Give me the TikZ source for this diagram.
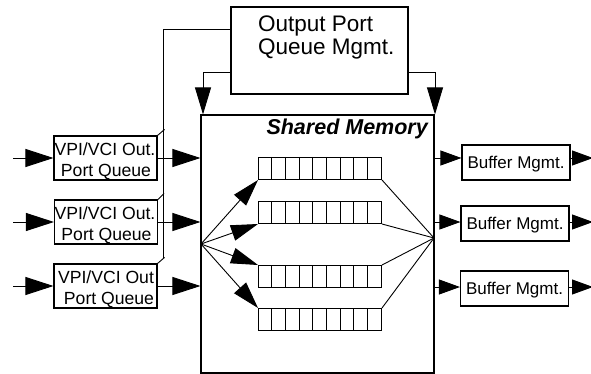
\documentclass[tikz,border=0pt]{standalone}
\usepackage{fontspec}
\setmainfont{Liberation Sans}
\usetikzlibrary{arrows.meta}

\tikzset{
  box/.style={draw, line width=1.1pt, inner sep=0pt},
  wire/.style={line width=0.9pt},
  lbl/.style={inner sep=0pt, font=\fontsize{17.6}{21}\selectfont},
  biglbl/.style={inner sep=0pt, font=\fontsize{22.5}{23}\selectfont},
  titlelbl/.style={inner sep=0pt, font=\fontsize{21.5}{22}\selectfont\bfseries\itshape},
  bigarrow/.style={wire, -{Triangle[length=28pt,width=18pt]}},
  downarrow/.style={wire, -{Triangle[length=27pt,width=16pt]}},
  fanarrow/.style={wire, -{Triangle[length=27pt,width=16pt]}},
  midarrow/.style={wire, -{Triangle[length=21pt,width=15pt]}},
  vpibox/.style={box, minimum width=103pt, minimum height=44pt},
  bufbox/.style={box, minimum width=108pt, minimum height=35pt,
    font=\fontsize{17}{21}\selectfont, text height=12.2pt, text depth=0pt},
  queuebox/.style={box, line width=1pt, minimum width=123pt, minimum height=22pt, anchor=north west},
}

\begin{document}
\begin{tikzpicture}[x=1pt, y=-1pt]
\useasboundingbox (0,0) rectangle (591,374);

% output port queue management block
\node[box, minimum width=177pt, minimum height=87pt] (opq) at (319.5,50.5) {};
\node[biglbl, anchor=base west] (opqa) at (258,31.5) {Output Port};
\node[biglbl, anchor=base west] (opqb) at (258,54.5) {Queue Mgmt.};

% shared memory block
\node[box, minimum width=233pt, minimum height=258pt] (sm) at (317.5,244) {};
\node[titlelbl, anchor=base east] (smt) at (428,135) {Shared Memory};

% input queues
\node[vpibox] (v1) at (105.5,158) {};
\node[vpibox] (v2) at (106,222) {};
\node[vpibox] (v3) at (105.5,286) {};
\node[lbl, anchor=base] (v1a) at (105,155.5) {VPI/VCI Out.};
\node[lbl, anchor=base] (v1b) at (106,176) {Port Queue};
\node[lbl, anchor=base] (v2a) at (105,219.5) {VPI/VCI Out.};
\node[lbl, anchor=base] (v2b) at (106.5,240) {Port Queue};
\node[lbl, anchor=base] (v3a) at (106,283.5) {VPI/VCI Out};
\node[lbl, anchor=base] (v3b) at (109,304) {Port Queue};

% buffer management blocks
\coordinate (r1) at (0,158);
\coordinate (r2) at (0,222);
\coordinate (r3) at (0,287);
\node[bufbox] (bm1) at (516,162.5) {Buffer Mgmt.};
\node[bufbox] (bm2) at (515,223.5) {Buffer Mgmt.};
\node[bufbox] (bm3) at (514.5,288.5) {Buffer Mgmt.};

% queues inside the shared memory
\foreach \n/\t in {1/157,2/201,3/265,4/308} {
  \node[queuebox] (q\n) at (258,\t) {};
  \foreach \i in {1,...,8}
    \draw[line width=1pt] (258+\i*13.667,\t) -- ++(0,22);
}

% fan-out and fan-in points
\coordinate (fo) at (201,244);
\coordinate (fi) at (434,238);
\draw[fanarrow] (fo) -- (q1.south west);
\draw[fanarrow] (fo) -- (q2.south west);
\draw[fanarrow] (fo) -- (q3.north west);
\draw[fanarrow] (fo) -- (q4.north west);
\draw[wire] (q1.south east) -- (fi);
\draw[wire] (q2.south east) -- (fi);
\draw[wire] (q3.north east) -- (fi);
\draw[wire] (q4.north east) -- (fi);

% inputs
\coordinate (i1) at (13,158);
\coordinate (i2) at (13,222);
\coordinate (i3) at (13,286);
\draw[bigarrow] (i1) -- (v1.west);
\draw[bigarrow] (i2) -- (v2.west);
\draw[bigarrow] (i3) -- (v3.west);
\draw[bigarrow] (v1.east) -- (v1.east -| sm.west);
\draw[bigarrow] (v2.east) -- (v2.east -| sm.west);
\draw[bigarrow] (v3.east) -- (v3.east -| sm.west);

% control line from the output port queue management
\coordinate (c0) at (163,29);
\coordinate (c1) at (163,258);
\draw[wire] (opq.west |- c0) -- (c0) -- (c1);
\draw[wire] (v1.north east) -- ++(7,-6);
\draw[wire] (v2.north east) -- ++(6,-6);
\draw[wire] (v3.north east) -- ++(7,-6);

% feedback into the shared memory
\coordinate (dl) at (203,72);
\coordinate (dr) at (435,72);
\draw[downarrow] (opq.west |- dl) -- (dl) -- (dl |- sm.north);
\draw[downarrow] (opq.east |- dr) -- (dr) -- (dr |- sm.north);

% outputs
\coordinate (e1) at (593,158);
\coordinate (e2) at (593,222);
\coordinate (e3) at (593,287);
\draw[midarrow] (sm.east |- r1) -- (bm1.west |- r1);
\draw[midarrow] (sm.east |- r2) -- (bm2.west |- r2);
\draw[midarrow] (sm.east |- r3) -- (bm3.west |- r3);
\draw[midarrow] (bm1.east |- r1) -- (e1);
\draw[midarrow] (bm2.east |- r2) -- (e2);
\draw[midarrow] (bm3.east |- r3) -- (e3);
\end{tikzpicture}
\end{document}
